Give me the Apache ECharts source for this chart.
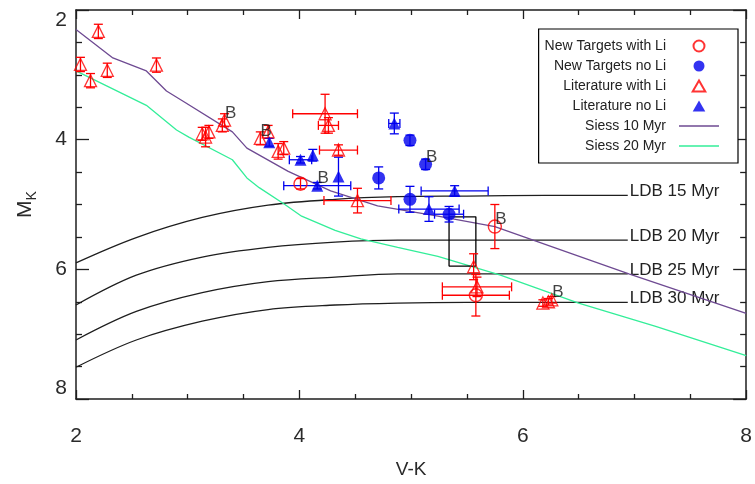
<!DOCTYPE html>
<html>
<head>
<meta charset="utf-8">
<script src="https://cdn.jsdelivr.net/npm/echarts@6/dist/echarts.min.js"></script>
<style>
  html, body { margin: 0; padding: 0; background: #fff; }
  #chart { width: 755px; height: 484px; }
</style>
</head>
<body>
<div id="chart"></div>
<script>
// Each star: [V-K, M_K, V-K error, M_K error]
const newWithLi = [
  [4.01, 4.68, 0, 0.08],
  [5.75, 5.34, 0, 0.34],
  [5.58, 6.40, 0.30, 0.32]
];
const newNoLi = [
  [4.99, 4.01, 0, 0.08],
  [5.13, 4.38, 0, 0.08],
  [4.71, 4.59, 0, 0.17],
  [4.99, 4.92, 0, 0.20],
  [5.34, 5.15, 0.13, 0.12]
];
const litWithLi = [
  [2.20, 2.33, 0, 0.11],
  [2.04, 2.84, 0, 0.11],
  [2.28, 2.93, 0, 0.11],
  [2.13, 3.09, 0, 0.11],
  [2.72, 2.85, 0, 0.11],
  [3.16, 3.96, 0, 0.15],
  [3.13, 3.91, 0, 0.10],
  [3.19, 3.88, 0, 0.10],
  [3.31, 3.78, 0, 0.10],
  [3.33, 3.70, 0, 0.10],
  [3.65, 3.98, 0, 0.10],
  [3.72, 3.88, 0, 0.10],
  [3.81, 4.18, 0, 0.12],
  [3.86, 4.13, 0, 0.10],
  [4.23, 3.60, 0.29, 0.30],
  [4.26, 3.78, 0.09, 0.12],
  [4.35, 4.16, 0.17, 0.08],
  [4.52, 4.94, 0.30, 0.19],
  [5.56, 5.96, 0, 0.20],
  [5.59, 6.27, 0.31, 0.15],
  [6.18, 6.52, 0, 0.05],
  [6.23, 6.50, 0, 0.05],
  [6.26, 6.47, 0, 0.05]
];
const litNoLi = [
  [3.73, 4.04, 0, 0.06],
  [4.01, 4.31, 0.10, 0.05],
  [4.12, 4.24, 0, 0.09],
  [4.35, 4.57, 0, 0.30],
  [4.16, 4.71, 0.30, 0.05],
  [4.85, 3.75, 0.05, 0.16],
  [5.39, 4.79, 0.30, 0.08],
  [5.16, 5.07, 0.27, 0.19]
];
// Stars flagged as binaries
const binaryFlags = [
  [3.33, 3.70], [3.65, 3.98], [4.16, 4.71],
  [5.13, 4.38], [5.75, 5.34], [6.26, 6.47]
];

// Siess isochrones [V-K, M_K]
const siess10 = [
  [2.0, 2.30], [2.33, 2.74], [2.63, 2.94], [2.81, 3.25], [2.97, 3.42],
  [3.4, 3.88], [3.53, 4.13], [3.9, 4.49], [4.28, 4.79], [4.7, 5.02],
  [5.24, 5.18], [5.75, 5.34], [6.95, 6.07], [8.0, 6.68]
];
const siess20 = [
  [2.0, 2.94], [2.63, 3.47], [2.9, 3.85], [3.01, 3.96], [3.4, 4.31],
  [3.53, 4.59], [3.64, 4.74], [3.87, 5.0], [4.02, 5.18], [4.32, 5.40],
  [4.55, 5.53], [4.88, 5.66], [5.24, 5.80], [5.8, 6.09], [6.5, 6.52],
  [7.19, 6.88], [8.0, 7.33]
];

// Lithium depletion boundary curves, sampled on a common V-K grid
const ldbVK = [2.0, 2.54, 3.13, 3.72, 4.32, 4.88, 5.5, 6.2, 6.94];
const ldb15 = [5.90, 5.51, 5.20, 5.01, 4.92, 4.88, 4.87, 4.86, 4.86];
const ldb20 = [6.55, 6.09, 5.81, 5.66, 5.58, 5.55, 5.55, 5.55, 5.55];
const ldb25 = [7.09, 6.65, 6.36, 6.19, 6.12, 6.07, 6.07, 6.07, 6.07];
const ldb30 = [7.51, 7.09, 6.80, 6.62, 6.55, 6.52, 6.51, 6.51, 6.51];
const ldbNames = ['LDB 15 Myr', 'LDB 20 Myr', 'LDB 25 Myr', 'LDB 30 Myr'];

// Outline box around the depletion boundary range
const depletionBox = [[5.34, 5.19], [5.58, 5.19], [5.58, 5.95], [5.34, 5.95], [5.34, 5.19]];

const axisMin = 2, axisMax = 8, axisStep = 2;

const FONT = '"Liberation Sans", Arial, Helvetica, sans-serif';
const RED = '#ff0000';
const BLUE = '#0000ee';
const PURPLE = '#6e4a92';
const GREEN = '#33ee99';
const INK = '#1e1e1e';

function errorBars(color) {
  return function (params, api) {
    const x = api.value(0), y = api.value(1), ex = api.value(2), ey = api.value(3);
    const cap = 4.5;
    const style = { stroke: color, lineWidth: 1.3 };
    const kids = [];
    const seg = (x1, y1, x2, y2) => kids.push({ type: 'line', shape: { x1, y1, x2, y2 }, style });
    if (ex > 0) {
      const a = api.coord([x - ex, y]), b = api.coord([x + ex, y]);
      seg(a[0], a[1], b[0], b[1]);
      seg(a[0], a[1] - cap, a[0], a[1] + cap);
      seg(b[0], b[1] - cap, b[0], b[1] + cap);
    }
    if (ey > 0) {
      const a = api.coord([x, y - ey]), b = api.coord([x, y + ey]);
      seg(a[0], a[1], b[0], b[1]);
      seg(a[0] - cap, a[1], a[0] + cap, a[1]);
      seg(b[0] - cap, b[1], b[0] + cap, b[1]);
    }
    return { type: 'group', children: kids };
  };
}

function errSeries(data, color) {
  return {
    type: 'custom', renderItem: errorBars(color), data: data,
    encode: { x: 0, y: 1 }, z: 3, silent: true
  };
}

function pts(data) { return data.map(d => [d[0], d[1]]); }

const axisLineStyle = { color: INK, width: 1.5 };

function xAxisDef(pos, labels) {
  return {
    type: 'value', position: pos, min: axisMin, max: axisMax, interval: axisStep,
    axisLine: { show: true, lineStyle: axisLineStyle },
    axisTick: { show: true, inside: true, length: 9, lineStyle: { color: INK, width: 1.3 } },
    minorTick: { show: true, splitNumber: 4, length: 5, lineStyle: { color: INK, width: 1.3 } },
    splitLine: { show: false },
    axisLabel: { show: labels, fontSize: 21, color: '#2a2a2a', margin: 27, fontFamily: FONT },
    name: labels ? 'V-K' : '', nameLocation: 'middle', nameGap: 61,
    nameTextStyle: { fontSize: 19, color: '#2a2a2a', fontFamily: FONT }
  };
}

function yAxisDef(pos, labels) {
  return {
    type: 'value', position: pos, min: axisMin, max: axisMax, interval: axisStep, inverse: true,
    axisLine: { show: true, lineStyle: axisLineStyle },
    axisTick: { show: true, inside: true, length: 13, lineStyle: { color: INK, width: 1.3 } },
    minorTick: { show: true, splitNumber: 4, length: 6, lineStyle: { color: INK, width: 1.3 } },
    splitLine: { show: false },
    axisLabel: {
      show: labels, fontSize: 21, color: '#2a2a2a', margin: 9, fontFamily: FONT,
      verticalAlignMinLabel: 'top', verticalAlignMaxLabel: 'bottom'
    },
    name: labels ? '{m|M}{k|K}' : '', nameLocation: 'middle', nameGap: 40, nameRotate: 90,
    nameTextStyle: {
      color: '#2a2a2a', fontFamily: FONT,
      rich: {
        m: { fontSize: 21, color: '#2a2a2a', fontFamily: FONT, verticalAlign: 'bottom', lineHeight: 26 },
        k: { fontSize: 14, color: '#2a2a2a', fontFamily: FONT, verticalAlign: 'bottom', lineHeight: 18, padding: [0, 0, -3, 0] }
      }
    }
  };
}

const ldbSets = [ldb15, ldb20, ldb25, ldb30];
const ldbSeries = ldbSets.map((vals, i) => ({
  name: ldbNames[i], type: 'line', smooth: 0.35, symbol: 'none', z: 1,
  data: ldbVK.map((v, j) => [v, vals[j]]),
  lineStyle: { color: INK, width: 1.3 },
  endLabel: {
    show: true, formatter: '{a}', distance: 2, offset: [0, -4],
    fontSize: 17, color: '#222', fontFamily: FONT
  },
  silent: true
}));

// legend swatches: thin bar for the isochrones, proportioned triangle for the triangle markers
const LINE_ICON = 'path://M0,0 H40 V1.4 H0 Z';
const TRI_ICON = 'path://M6,0 L12,10.5 L0,10.5 Z';

const chart = echarts.init(document.getElementById('chart'), null, { renderer: 'canvas' });

chart.setOption({
  animation: false,
  backgroundColor: '#fff',
  grid: { left: 76, right: 4, top: 10, bottom: 81, containLabel: false },
  xAxis: [xAxisDef('bottom', true), xAxisDef('top', false)],
  yAxis: [yAxisDef('left', true), yAxisDef('right', false)],
  legend: {
    orient: 'vertical', right: 17, top: 29, align: 'right',
    itemWidth: 40, itemHeight: 11, itemGap: 6,
    symbolKeepAspect: true,
    padding: [10, 19, 10, 6],
    borderColor: '#000', borderWidth: 1.2, backgroundColor: '#fff',
    textStyle: { fontSize: 14, color: '#222', fontFamily: FONT, padding: [0, 8, 0, 0] },
    data: [
      { name: 'New Targets with Li', icon: 'circle' },
      { name: 'New Targets no Li', icon: 'circle' },
      { name: 'Literature with Li', icon: TRI_ICON },
      { name: 'Literature no Li', icon: TRI_ICON },
      { name: 'Siess 10 Myr', icon: LINE_ICON },
      { name: 'Siess 20 Myr', icon: LINE_ICON }
    ]
  },
  series: [
    ...ldbSeries,
    {
      name: 'Siess 10 Myr', type: 'line', symbol: 'none', z: 2, data: siess10,
      lineStyle: { color: PURPLE, width: 1.3 }, itemStyle: { color: PURPLE }
    },
    {
      name: 'Siess 20 Myr', type: 'line', symbol: 'none', z: 2, data: siess20,
      lineStyle: { color: GREEN, width: 1.3 }, itemStyle: { color: GREEN }
    },
    {
      name: 'depletion box', type: 'line', symbol: 'none', z: 2, data: depletionBox,
      lineStyle: { color: '#000', width: 1.3 }, silent: true
    },
    errSeries(litWithLi, RED),
    errSeries(litNoLi, BLUE),
    errSeries(newNoLi, BLUE),
    errSeries(newWithLi, RED),
    {
      name: 'Literature with Li', type: 'scatter', symbol: 'triangle', symbolSize: 12, z: 4,
      data: pts(litWithLi),
      itemStyle: { color: 'rgba(255,255,255,0)', borderColor: RED, borderWidth: 1.3 }
    },
    {
      name: 'Literature no Li', type: 'scatter', symbol: 'triangle', symbolSize: 12, z: 4,
      data: pts(litNoLi), itemStyle: { color: BLUE }
    },
    {
      name: 'New Targets no Li', type: 'scatter', symbol: 'circle', symbolSize: 13, z: 4,
      data: pts(newNoLi), itemStyle: { color: BLUE }
    },
    {
      name: 'New Targets with Li', type: 'scatter', symbol: 'circle', symbolSize: 13, z: 4,
      data: pts(newWithLi),
      itemStyle: { color: 'rgba(255,255,255,0)', borderColor: RED, borderWidth: 1.4 }
    },
    {
      name: 'binary', type: 'scatter', symbol: 'circle', symbolSize: 1, z: 5, silent: true,
      data: binaryFlags, itemStyle: { color: 'rgba(0,0,0,0)' },
      label: {
        show: true, formatter: 'B', position: 'inside', offset: [6, -7],
        fontSize: 17, color: '#111', fontFamily: FONT
      }
    }
  ]
});
</script>
</body>
</html>
